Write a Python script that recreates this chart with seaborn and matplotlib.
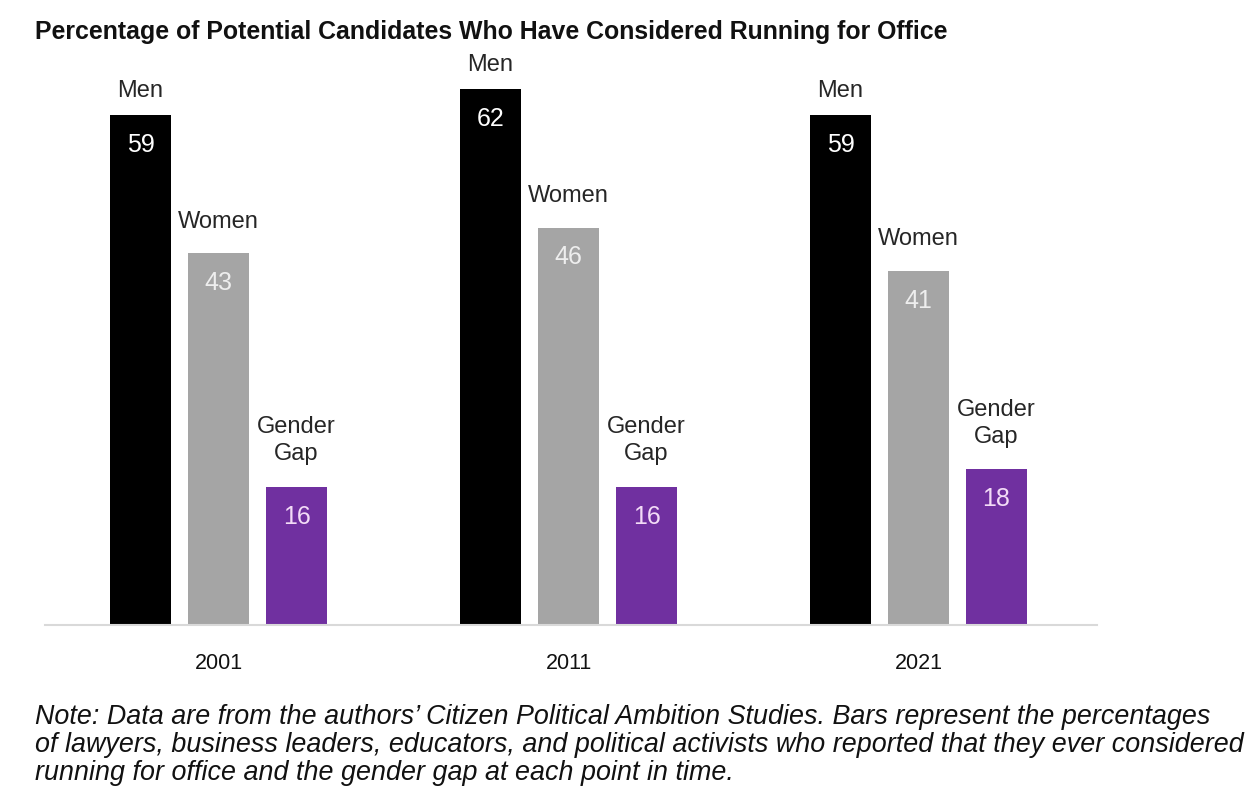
import matplotlib
matplotlib.use("Agg")
import matplotlib.pyplot as plt
import seaborn as sns
import pandas as pd

# Survey data: share of potential candidates who have considered running
years = ["2001", "2011", "2021"]
groups = ["Men", "Women", "Gender Gap"]
men = [59, 62, 59]
women = [43, 46, 41]
gap = [16, 16, 18]

title = "Percentage of Potential Candidates Who Have Considered Running for Office"
note = ("Note: Data are from the authors\u2019 Citizen Political Ambition Studies. Bars represent the percentages\n"
        "of lawyers, business leaders, educators, and political activists who reported that they ever considered\n"
        "running for office and the gender gap at each point in time.")

rows = []
for i, y in enumerate(years):
    rows.append({"year": y, "group": "Men", "value": men[i]})
    rows.append({"year": y, "group": "Women", "value": women[i]})
    rows.append({"year": y, "group": "Gender Gap", "value": gap[i]})
df = pd.DataFrame(rows)

sns.set_style("white")
plt.rcParams["font.family"] = ["Liberation Sans", "DejaVu Sans"]

colors = {"Men": "#000000", "Women": "#a5a5a5", "Gender Gap": "#7030a0"}
value_colors = {"Men": "#ffffff", "Women": "#eeeeee", "Gender Gap": "#f3dcf7"}
name_labels = {"Men": "Men", "Women": "Women", "Gender Gap": "Gender\nGap"}
name_offset = {"Men": 9.5, "Women": 15, "Gender Gap": 15.5}

W, H = 1252, 791
fig = plt.figure(figsize=(W / 100, H / 100), dpi=100)
ax_left, ax_right, ax_bottom, ax_top = 45, 1097, 625, 45
ax = fig.add_axes([ax_left / W, 1 - ax_bottom / H,
                   (ax_right - ax_left) / W, (ax_bottom - ax_top) / H])

sns.barplot(data=df, x="year", y="value", hue="group", order=years,
            hue_order=groups, palette=colors, width=0.6686, gap=0.218,
            legend=False, ax=ax, saturation=1, edgecolor="none")

ax.set_ylim(0, (ax_bottom - ax_top) / 8.64)
ax.set_xlim((ax_left - 218.5) / 350, (ax_right - 218.5) / 350)

for grp, cont in zip(groups, ax.containers):
    for bar in cont:
        h = bar.get_height()
        cx = bar.get_x() + bar.get_width() / 2
        ax.annotate(f"{h:g}", (cx, h), xytext=(0, -21.5), textcoords="offset points",
                    ha="center", va="center", fontsize=18, color=value_colors[grp])
        ax.annotate(name_labels[grp], (cx, h), xytext=(0, name_offset[grp]),
                    textcoords="offset points", ha="center", va="bottom",
                    fontsize=17, color="#262626", linespacing=1.3)

for s in ["top", "right", "left"]:
    ax.spines[s].set_visible(False)
ax.spines["bottom"].set_color("#d9d9d9")
ax.spines["bottom"].set_linewidth(1.5)
ax.set_yticks([])
ax.set_xlabel("")
ax.set_ylabel("")
ax.tick_params(axis="x", length=0, pad=20, labelsize=15.5, labelcolor="#111111")

fig.text(35 / W, 1 - 32 / H, title, ha="left", va="center",
         fontsize=17.9, fontweight="bold", color="#111111")
fig.text(35 / W, 1 - 745 / H, note, ha="left", va="center",
         fontsize=19.4, style="italic", color="#111111", linespacing=1.12)

fig.savefig("out.png", dpi=100, facecolor="white")
